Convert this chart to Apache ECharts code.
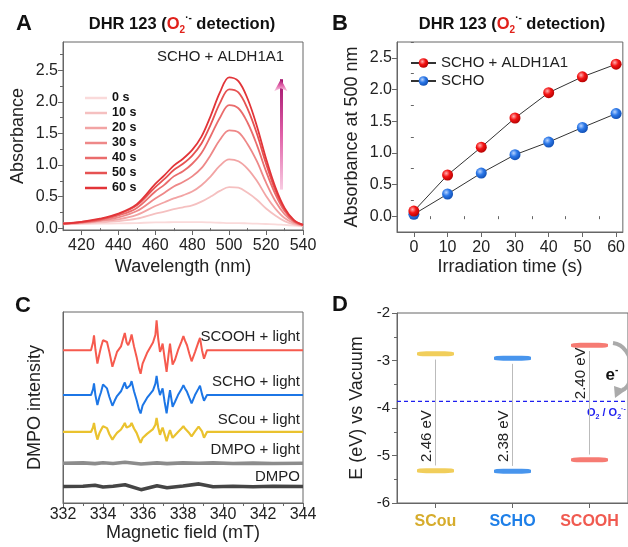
<!DOCTYPE html>
<html><head><meta charset="utf-8">
<script src="https://cdn.jsdelivr.net/npm/echarts@6/dist/echarts.min.js"></script>
<style>html,body{margin:0;padding:0;background:#fff}#c{width:628px;height:547px}</style>
</head><body><div id="c"></div>
<script>
const FONT = "'Liberation Sans', Arial, sans-serif";

// ---------- Panel A: absorption spectra ----------
const wavelengths = [410,420,430,440,450,460,465,470,475,480,485,490,495,500,505,510,515,520,525,530,535,540];
const timeLabels = ['0 s','10 s','20 s','30 s','40 s','50 s','60 s'];
const abs0s  = [0.06,0.065,0.07,0.075,0.08,0.09,0.09,0.095,0.095,0.095,0.095,0.09,0.085,0.08,0.08,0.075,0.07,0.065,0.06,0.05,0.04,0.03];
const abs10s = [0.07,0.08,0.09,0.11,0.15,0.23,0.26,0.30,0.33,0.36,0.42,0.50,0.59,0.65,0.64,0.56,0.45,0.31,0.20,0.11,0.06,0.04];
const abs20s = [0.07,0.08,0.11,0.14,0.21,0.35,0.41,0.47,0.52,0.58,0.68,0.82,0.99,1.09,1.06,0.94,0.75,0.51,0.31,0.16,0.08,0.04];
const abs30s = [0.07,0.09,0.12,0.17,0.27,0.47,0.56,0.66,0.73,0.82,0.95,1.16,1.40,1.55,1.52,1.33,1.06,0.72,0.43,0.22,0.10,0.04];
const abs40s = [0.07,0.09,0.13,0.20,0.32,0.58,0.69,0.82,0.90,1.02,1.19,1.46,1.75,1.95,1.90,1.67,1.32,0.90,0.54,0.27,0.11,0.05];
const abs50s = [0.07,0.10,0.14,0.22,0.36,0.65,0.78,0.92,1.02,1.15,1.34,1.64,1.98,2.20,2.15,1.89,1.50,1.02,0.60,0.30,0.12,0.05];
const abs60s = [0.07,0.10,0.15,0.23,0.38,0.70,0.84,0.99,1.10,1.24,1.45,1.78,2.15,2.39,2.33,2.05,1.62,1.10,0.65,0.32,0.13,0.05];
const spectraA = [abs0s, abs10s, abs20s, abs30s, abs40s, abs50s, abs60s];
const ticksAx = [420,440,460,480,500,520,540];
const minorAx = [410,430,450,470,490,510,530];
const ticksAy = [0,0.5,1.0,1.5,2.0,2.5];
const minorAy = [0.25,0.75,1.25,1.75,2.25,2.75];

// ---------- Panel B: absorbance at 500 nm ----------
const timesB = [0,10,20,30,40,50,60];
const absAldh = [0.08,0.65,1.09,1.55,1.95,2.20,2.40];
const absScho = [0.03,0.35,0.68,0.97,1.17,1.40,1.62];
const ticksBx = [0,10,20,30,40,50,60];
const minorBx = [-5,5,15,25,35,45,55];
const ticksBy = [0,0.5,1.0,1.5,2.0,2.5];
const minorBy = [-0.25,0.25,0.75,1.25,1.75,2.25,2.75];

// ---------- Panel C: EPR spectra (stacked, arbitrary units) ----------
const fieldC = [332.0,333.40,333.50,333.55,333.62,333.72,333.82,333.90,334.00,334.09,334.20,334.32,334.47,334.58,334.70,334.90,335.02,335.09,335.18,335.26,335.35,335.43,335.55,335.68,335.80,335.88,335.98,336.20,336.50,336.62,336.68,336.76,336.85,336.92,336.98,337.08,337.18,337.28,337.35,337.48,337.60,337.75,337.92,338.02,338.10,338.20,338.32,338.43,338.60,338.78,338.85,338.95,339.05,339.20,344.0];
const eprScooh = [80,80,84.0,87.8,80.5,73.0,78.0,81.7,85.2,86.1,84.3,79.0,71.3,75.0,79.1,82.0,86.5,89.0,84.0,82.6,85.0,88.2,82.0,76.5,70.5,67.7,73.0,78.5,84.0,88.0,95.7,86.0,79.1,81.0,83.5,76.0,68.7,78.0,83.5,72.5,75.0,80,84.5,87.4,85.0,82.6,78.0,74.2,79.0,84.5,86.5,80.0,75.5,80,80];
const eprScho  = [56.5,56.5,59.5,62.6,56.5,51.3,55.5,58.0,62.1,61.5,60.0,55.5,50.9,53.5,56.0,58.5,61.5,63.1,60.0,59.1,61.5,63.8,58.5,53.9,49.0,46.9,51.0,55.0,59.0,62.5,66.6,60.5,56.5,58.5,60.0,53.0,46.9,54.5,59.1,50.4,53.0,56.5,59.5,61.7,60.0,58.2,55.0,52.2,56.5,60.0,61.4,57.0,53.5,56.5,56.5];
const eprScou  = [37.2,37.2,39.5,41.9,37.5,33.2,36.5,38.2,40.2,40.2,39.2,36.0,33.2,35.0,36.7,38.5,40.5,41.9,39.5,38.7,40.3,41.9,39.0,36.7,33.5,31.5,34.0,36.2,38.7,41.0,44.5,39.5,35.7,38.0,39.5,36.0,32.3,36.0,38.2,34.1,35.5,37.2,39.0,40.2,39.0,38.2,36.5,34.9,37.5,40.0,41.0,37.5,34.2,37.2,37.2];
const fieldGray = [332,333.0,333.6,334.0,334.5,335.1,335.9,336.7,337.2,338.0,338.8,339.5,340.5,341.5,342.5,344];
const eprDmpoLight = [20.8,21.0,20.6,21.1,20.7,21.3,20.4,21.0,20.6,21.0,20.8,21.0,20.7,20.9,20.7,20.8];
const eprDmpo      = [8.6,8.8,9.3,8.4,8.8,9.6,7.0,9.0,8.0,8.9,10.0,8.5,8.8,8.5,8.8,8.6];
const eprNames = ['SCOOH + light','SCHO + light','SCou + light','DMPO + light','DMPO'];

// ---------- Panel D: band levels ----------
const materials = ['SCou','SCHO','SCOOH'];
const lumo = [-2.86,-2.95,-2.68];
const homo = [-5.32,-5.33,-5.09];
const gapLabels = ['2.46 eV','2.38 eV','2.40 eV'];
const o2Level = -3.86;

// ---------- styles ----------
const redShades = ['#FADADA','#F5C0C0','#F2A4A4','#EE8888','#EA6C6C','#E65252','#E23438'];
const eprColors = ['#F65A4E','#1C76E6','#EAC22E','#8C8C8C','#454545'];
const eprWidths = [2.0,2.0,2.2,3.6,3.6];
const barColors = ['#EEC232','#1A7BE8','#F45A50'];
const catColors = ['#D6AC2C','#1E7FE8','#F05A50'];
const AX = '#666', TX = '#222', BLUE = '#1E1EF0';

function ball(c0, c1, c2){
  return {type:'radial', x:0.38, y:0.35, r:0.7, colorStops:[{offset:0,color:c0},{offset:0.45,color:c1},{offset:1,color:c2}]};
}
function baseAxis(extra){
  return Object.assign({
    axisLine:{show:true,onZero:false,lineStyle:{color:AX,width:1}},
    axisTick:{show:true,inside:false,length:5,lineStyle:{color:AX}},
    axisLabel:{color:TX,fontSize:16,fontFamily:FONT},
    splitLine:{show:false},
    nameLocation:'middle',
    nameTextStyle:{color:TX,fontSize:18,fontFamily:FONT}
  }, extra);
}
function minorAxis(grid, pos, min, max, vals){
  return {type:'value', gridIndex:grid, position:pos, min:min, max:max,
    axisLine:{show:false}, splitLine:{show:false}, axisLabel:{show:false},
    axisTick:{show:true, length:3, lineStyle:{color:AX}, customValues:vals}};
}

const series = [];
spectraA.forEach((arr,i)=>{
  const s = {
    name: timeLabels[i], type:'line', xAxisIndex:0, yAxisIndex:0,
    data: wavelengths.map((w,j)=>[w, arr[j]]),
    smooth:0.35, showSymbol:false, symbol:'none',
    lineStyle:{width:1.8,color:redShades[i]}, itemStyle:{color:redShades[i]}, z:2+i
  };
  if (i === spectraA.length-1) {
    s.markLine = {silent:true, symbol:['none','arrow'], symbolSize:[10,12],
      label:{show:false},
      lineStyle:{width:3,type:'solid',color:{type:'linear',x:0,y:1,x2:0,y2:0,colorStops:[{offset:0,color:'#F9D0E4'},{offset:0.5,color:'#E060A8'},{offset:1,color:'#A0106A'}]}},
      itemStyle:{color:'#A0106A'},
      data:[[{coord:[528,0.61]},{coord:[528,2.36]}]]};
  }
  series.push(s);
});

series.push({name:'SCHO + ALDH1A1', type:'line', xAxisIndex:2, yAxisIndex:2,
  data: timesB.map((t,j)=>[t, absAldh[j]]), symbol:'circle', symbolSize:11, z:5,
  lineStyle:{color:'#333',width:1}, itemStyle:{color:ball('#FFB0B0','#F41414','#B00000')}});
series.push({name:'SCHO', type:'line', xAxisIndex:2, yAxisIndex:2,
  data: timesB.map((t,j)=>[t, absScho[j]]), symbol:'circle', symbolSize:11, z:4,
  lineStyle:{color:'#333',width:1}, itemStyle:{color:ball('#B8D4FF','#2C78E8','#0F4CB0')}});

[[fieldC,eprScooh],[fieldC,eprScho],[fieldC,eprScou],[fieldGray,eprDmpoLight],[fieldGray,eprDmpo]].forEach((p,i)=>{
  series.push({name:eprNames[i], type:'line', xAxisIndex:4, yAxisIndex:4,
    data: p[0].map((f,j)=>[f, p[1][j]]), showSymbol:false, symbol:'none',
    lineStyle:{width:eprWidths[i], color:eprColors[i]}, z:3});
});

series.push({name:'LUMO', type:'scatter', xAxisIndex:5, yAxisIndex:5, symbol:'roundRect', symbolSize:[37,5], z:5,
  data: lumo.map((v,i)=>({value:[i,v], itemStyle:{color:barColors[i]}}))});
series.push({name:'HOMO', type:'scatter', xAxisIndex:5, yAxisIndex:5, symbol:'roundRect', symbolSize:[37,5], z:5,
  data: homo.map((v,i)=>({value:[i,v], itemStyle:{color:barColors[i]}}))});
const labelAbove = [false,false,true];
series.push({name:'gap', type:'custom', xAxisIndex:5, yAxisIndex:5, z:3,
  data: materials.map((m,i)=>[i, lumo[i], homo[i]]),
  encode:{x:0,y:[1,2]},
  renderItem:function(params, api){
    const i = api.value(0), lu = api.value(1), ho = api.value(2);
    const top = api.coord([i, lu-0.12]);
    const bot = api.coord([i, ho+0.11]);
    const ly = labelAbove[i] ? (lu + o2Level)/2 : (o2Level + ho)/2;
    const lp = api.coord([i, ly]);
    const children = [
      {type:'line', shape:{x1:top[0],y1:top[1],x2:bot[0],y2:bot[1]}, style:{stroke:'#BBBBBB',lineWidth:1}},
      {type:'text', x:lp[0]-9, y:lp[1], rotation:Math.PI/2,
        style:{text:gapLabels[i], fill:TX, font:'15px '+FONT, align:'center', verticalAlign:'middle'}}
    ];
    if (params.dataIndex === 0) {
      const cs = params.coordSys;
      const oy = api.coord([0, o2Level])[1];
      children.unshift({type:'line', shape:{x1:cs.x, y1:oy, x2:cs.x+cs.width, y2:oy},
        style:{stroke:BLUE, lineWidth:1.4, lineDash:[4,3]}});
    }
    return {type:'group', children:children};
  }
});

const titleRich = {
  b:{fontSize:16.5,fontWeight:'bold',fill:'#111',fontFamily:FONT,lineHeight:22},
  r:{fontSize:16.5,fontWeight:'bold',fill:'#E0201A',fontFamily:FONT,lineHeight:22},
  rs:{fontSize:10,fontWeight:'bold',fill:'#E0201A',fontFamily:FONT,lineHeight:12,verticalAlign:'bottom'},
  sup:{fontSize:10,fontWeight:'bold',fill:'#111',fontFamily:FONT,lineHeight:12,verticalAlign:'top'}
};
const titleText = '{b|DHR 123 (}{r|O}{rs|2}{sup|·-}{b| detection)}';
function txt(x,y,text,font,color,align){
  return {type:'text', x:x, y:y, silent:true, style:{text:text, font:font, fill:color||TX, align:align||'center', verticalAlign:'middle'}};
}

const graphic = [
  txt(24,24,'A','bold 22px '+FONT,'#111'),
  txt(340,24,'B','bold 22px '+FONT,'#111'),
  txt(23,306,'C','bold 22px '+FONT,'#111'),
  txt(340,305,'D','bold 22px '+FONT,'#111'),
  {type:'text', x:182, y:24, silent:true, style:{text:titleText, rich:titleRich, align:'center', verticalAlign:'middle'}},
  {type:'text', x:512, y:24, silent:true, style:{text:titleText, rich:titleRich, align:'center', verticalAlign:'middle'}},
  txt(157,57,'SCHO + ALDH1A1','15px '+FONT,TX,'left'),
  txt(300,337,eprNames[0],'15px '+FONT,TX,'right'),
  txt(300,382,eprNames[1],'15px '+FONT,TX,'right'),
  txt(300,420,eprNames[2],'15px '+FONT,TX,'right'),
  txt(300,450,eprNames[3],'15px '+FONT,TX,'right'),
  txt(300,477,eprNames[4],'15px '+FONT,TX,'right'),
  {type:'text', x:587, y:413, silent:true, style:{
    text:'{a|O}{s|2}{a| / O}{s|2}{p|·-}', align:'left', verticalAlign:'middle',
    rich:{a:{fontSize:11,fontWeight:'bold',fill:BLUE,fontFamily:FONT,lineHeight:15},
          s:{fontSize:7,fontWeight:'bold',fill:BLUE,fontFamily:FONT,lineHeight:9,verticalAlign:'bottom'},
          p:{fontSize:7,fontWeight:'bold',fill:BLUE,fontFamily:FONT,lineHeight:9,verticalAlign:'top'}}}},
  {type:'text', x:612, y:375, silent:true, style:{
    text:'{a|e}{p|-}', align:'center', verticalAlign:'middle',
    rich:{a:{fontSize:17,fontWeight:'bold',fill:'#111',fontFamily:FONT,lineHeight:20},
          p:{fontSize:10,fontWeight:'bold',fill:'#111',fontFamily:FONT,lineHeight:12,verticalAlign:'top'}}}},
  {type:'bezierCurve', silent:true, shape:{x1:613,y1:343,cpx1:636,cpy1:346,cpx2:636,cpy2:386,x2:622,y2:390},
    style:{stroke:'#AAAAAA',lineWidth:4,fill:null}},
  {type:'polygon', silent:true, shape:{points:[[615,398],[614,386],[626,390]]}, style:{fill:'#AAAAAA'}}
];

const option = {
  animation:false,
  backgroundColor:'#fff',
  textStyle:{fontFamily:FONT},
  grid:[
    {left:63, top:42, width:240, height:188, show:true, borderColor:AX, borderWidth:1},
    {left:397, top:42, width:228, height:190, show:true, borderColor:AX, borderWidth:1},
    {left:63, top:312, width:240, height:191, show:true, borderColor:AX, borderWidth:1},
    {left:397, top:313, width:239, height:190, show:true, borderColor:AX, borderWidth:1}
  ],
  xAxis:[
    baseAxis({type:'value', gridIndex:0, position:'bottom', min:410, max:540,
      axisTick:{show:true,length:5,lineStyle:{color:AX},customValues:ticksAx},
      axisLabel:{color:TX,fontSize:16,fontFamily:FONT,margin:8,customValues:ticksAx},
      name:'Wavelength (nm)', nameGap:28}),
    minorAxis(0,'bottom',410,540,minorAx),
    baseAxis({type:'value', gridIndex:1, position:'bottom', min:-5, max:62,
      axisTick:{show:true,length:5,lineStyle:{color:AX},customValues:ticksBx},
      axisLabel:{color:TX,fontSize:16,fontFamily:FONT,margin:8,customValues:ticksBx},
      name:'Irradiation time (s)', nameGap:26}),
    minorAxis(1,'bottom',-5,62,minorBx),
    baseAxis({type:'value', gridIndex:2, position:'bottom', min:332, max:344, interval:2,
      axisTick:{show:true,length:5,lineStyle:{color:AX}},
      minorTick:{show:true,splitNumber:2,length:3,lineStyle:{color:AX}},
      axisLabel:{color:TX,fontSize:16,fontFamily:FONT,margin:4},
      name:'Magnetic field (mT)', nameGap:17}),
    baseAxis({type:'category', gridIndex:3, position:'bottom', data:materials, boundaryGap:true,
      axisTick:{show:true,alignWithLabel:true,length:5,lineStyle:{color:AX}},
      axisLabel:{fontSize:16,fontWeight:'bold',fontFamily:FONT,margin:11,color:function(v,i){return catColors[i];}}})
  ],
  yAxis:[
    baseAxis({type:'value', gridIndex:0, position:'left', min:-0.03, max:2.95,
      axisTick:{show:true,length:5,lineStyle:{color:AX},customValues:ticksAy},
      axisLabel:{color:TX,fontSize:16,fontFamily:FONT,margin:5,customValues:ticksAy,formatter:v=>v.toFixed(1)},
      name:'Absorbance', nameGap:36}),
    minorAxis(0,'left',-0.03,2.95,minorAy),
    baseAxis({type:'value', gridIndex:1, position:'left', min:-0.25, max:2.75,
      axisTick:{show:true,length:5,lineStyle:{color:AX},customValues:ticksBy},
      axisLabel:{color:TX,fontSize:16,fontFamily:FONT,margin:5,customValues:ticksBy,formatter:v=>v.toFixed(1)},
      name:'Absorbance at 500 nm', nameGap:36}),
    minorAxis(1,'left',-0.25,2.75,minorBy),
    baseAxis({type:'value', gridIndex:2, position:'left', min:0, max:100,
      axisTick:{show:false}, axisLabel:{show:false},
      name:'DMPO intensity', nameGap:19}),
    baseAxis({type:'value', gridIndex:3, position:'left', min:-6, max:-2, interval:1,
      axisTick:{show:true,length:5,lineStyle:{color:AX}},
      minorTick:{show:true,splitNumber:2,length:3,lineStyle:{color:AX}},
      axisLabel:{color:TX,fontSize:15,fontFamily:FONT,margin:7},
      name:'E (eV) vs Vacuum', nameGap:31})
  ],
  legend:[
    {data:timeLabels, orient:'vertical', left:80, top:86, itemWidth:22, itemHeight:2.5, itemGap:1, icon:'rect',
     textStyle:{fontSize:12.5,fontWeight:'bold',color:'#111',fontFamily:FONT,lineHeight:14,height:14}, selectedMode:false},
    {data:['SCHO + ALDH1A1','SCHO'], orient:'vertical', left:405, top:50, itemWidth:25, itemHeight:12, itemGap:2,
     textStyle:{fontSize:15,color:TX,fontFamily:FONT,lineHeight:16}, selectedMode:false}
  ],
  series: series,
  graphic: graphic
};
const chart = echarts.init(document.getElementById('c'), null, {renderer:'canvas'});
chart.setOption(option);
</script></body></html>
